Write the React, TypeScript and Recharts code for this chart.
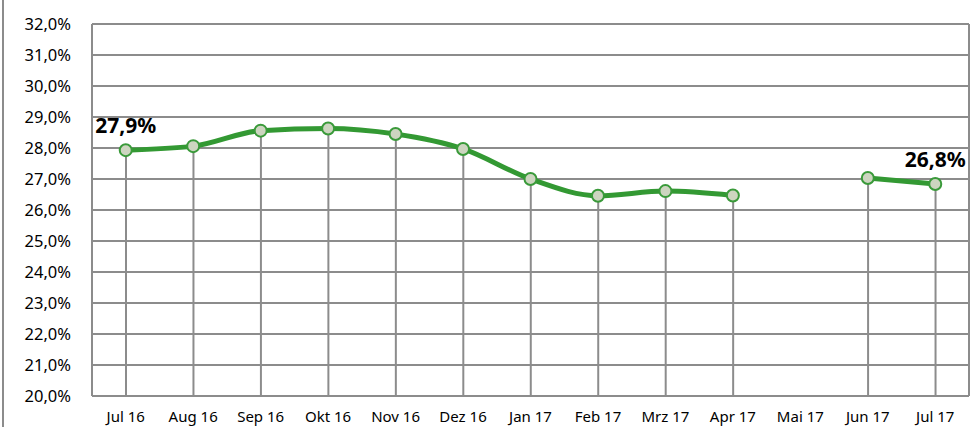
import React from 'react';
import { ComposedChart, Line, Bar, XAxis, YAxis, CartesianGrid, LabelList } from 'recharts';

const months = ['Jul 16', 'Aug 16', 'Sep 16', 'Okt 16', 'Nov 16', 'Dez 16', 'Jan 17', 'Feb 17', 'Mrz 17', 'Apr 17', 'Mai 17', 'Jun 17', 'Jul 17'];
const quote: (number | null)[] = [27.93, 28.06, 28.56, 28.63, 28.45, 27.97, 27.0, 26.46, 26.61, 26.47, null, 27.03, 26.84];
const yTicks = [20, 21, 22, 23, 24, 25, 26, 27, 28, 29, 30, 31, 32];

const data = months.map((m, i) => ({ name: m, value: quote[i] }));

const pct = (v: number) => v.toFixed(1).replace('.', ',') + '%';

const EdgeLabel = (props: any) => {
  const { x, y, value, index } = props;
  if (value == null || (index !== 0 && index !== months.length - 1)) return null;
  return (
    <text x={x} y={y - 17} textAnchor="middle" fontSize={21} fontWeight="bold" fill="#000">
      {pct(value)}
    </text>
  );
};

export default function App() {
  return (
    <div style={{ position: 'absolute', left: 0, top: 0, width: 971, height: 427, background: '#fff', fontFamily: 'Noto Sans, sans-serif' }}>
      <div style={{ position: 'absolute', left: 2, top: 0, width: 0, height: 427, borderLeft: '2px solid #8c8c8c' }} />
      <ComposedChart width={971} height={427} data={data} margin={{ top: 24, right: 1, left: 4, bottom: 6 }} barCategoryGap={0}>
        <CartesianGrid vertical={false} stroke="#8c8c8c" strokeWidth={2} />
        <XAxis
          dataKey="name"
          height={25}
          tickLine={false}
          axisLine={{ stroke: '#8c8c8c', strokeWidth: 2 }}
          tick={{ fontSize: 15, fill: '#000' }}
          tickMargin={9}
          interval={0}
        />
        <YAxis
          domain={[20, 32]}
          ticks={yTicks}
          tickFormatter={pct}
          width={88}
          tickLine={false}
          axisLine={{ stroke: '#8c8c8c', strokeWidth: 2 }}
          tick={{ fontSize: 16.5, fill: '#000' }}
          tickMargin={15}
          interval={0}
        />
        <YAxis
          yAxisId="r"
          orientation="right"
          domain={[20, 32]}
          width={1}
          tick={false}
          tickLine={false}
          axisLine={{ stroke: '#8c8c8c', strokeWidth: 2 }}
        />
        <Bar dataKey="value" barSize={2} fill="#8c8c8c" isAnimationActive={false} />
        <Line
          type="monotone"
          dataKey="value"
          stroke="#339933"
          strokeWidth={5}
          connectNulls={false}
          dot={{ r: 6, fill: '#cdd5c0', stroke: '#3a9a3a', strokeWidth: 2 }}
          activeDot={false}
          isAnimationActive={false}
        >
          <LabelList dataKey="value" content={EdgeLabel} />
        </Line>
      </ComposedChart>
    </div>
  );
}
